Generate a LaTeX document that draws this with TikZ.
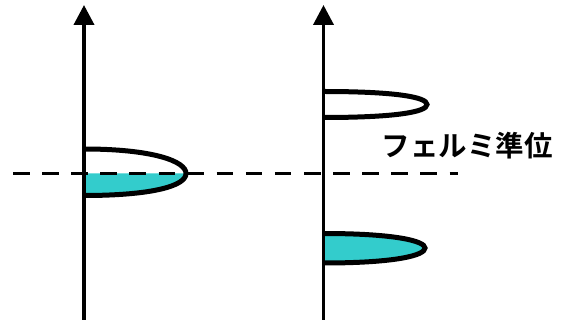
\documentclass[tikz,border=0pt]{standalone}
\usepackage{fontspec}
\newfontfamily\jpfont{Noto Sans CJK JP}[BoldFont={* Bold}]
\usetikzlibrary{arrows.meta}
\definecolor{dos}{HTML}{33CCCC}
\tikzset{
  axisline/.style={line width=3.8pt,-{Triangle[width=20pt,length=20pt]}},
  lobe/.style={line width=5pt},
  fermi/.style={line width=3.5pt,dash pattern=on 16.5pt off 12.6pt},
}
\begin{document}
\begin{tikzpicture}[x=1pt,y=-1pt]
\useasboundingbox (0,0) rectangle (565,320);
% fills
\fill[dos] (84,173.5) -- (186,173.5) .. controls (186,186) and (152,195.5) .. (84,195.5) -- cycle;
\fill[dos] (323.5,233.5) .. controls (395,233.5) and (425,241) .. (425,248) .. controls (425,255.5) and (395,263) .. (323.5,263) -- cycle;
% fermi level
\coordinate (fl) at (13,173.5);
\coordinate (fr) at (458,173.5);
\draw[fermi] (fl) -- (fr);
% axes
\coordinate (a1b) at (84,320);
\coordinate (a1t) at (84,5);
\coordinate (a2b) at (323.5,320);
\coordinate (a2t) at (323.5,5);
\draw[axisline] (a1b) -- (a1t);
\draw[axisline] (a2b) -- (a2t);
% lobes
\draw[lobe] (84,149) .. controls (152,149) and (186,161) .. (186,173.5) .. controls (186,186) and (152,195.5) .. (84,195.5);
\draw[lobe] (323.5,91.5) .. controls (395,91.5) and (427,97) .. (427,104.5) .. controls (427,112) and (395,117.5) .. (323.5,117.5);
\draw[lobe] (323.5,233.5) .. controls (395,233.5) and (425,241) .. (425,248) .. controls (425,255.5) and (395,263) .. (323.5,263);
% label
\node[font=\jpfont\bfseries\fontsize{28.5}{34}\selectfont, inner sep=0pt] (lbl) at (467,145.5) {フェルミ準位};
\end{tikzpicture}
\end{document}
